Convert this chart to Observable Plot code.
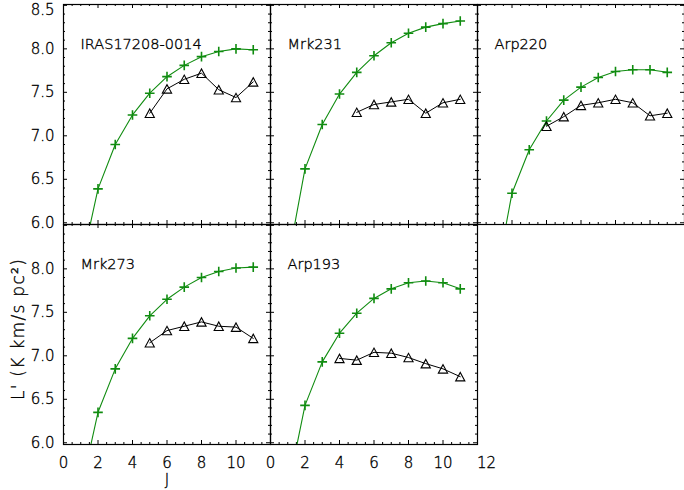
<!DOCTYPE html>
<html>
<head>
<meta charset="utf-8">
<script src="https://cdn.jsdelivr.net/npm/d3@7"></script>
<script src="https://cdn.jsdelivr.net/npm/@observablehq/plot@0.6"></script>
<style>
  body { margin: 0; background: #fff; }
  #fig { position: relative; width: 684px; height: 490px; font-family: "DejaVu Sans", sans-serif; }
  #fig svg { position: absolute; }
  #fig text { font-weight: 300; }
</style>
</head>
<body>
<div id="fig"></div>
<script>
// Rotational ladders: model (green, +) and observed (black, triangles) line luminosities
const galaxies = ["IRAS17208-0014", "Mrk231", "Arp220", "Mrk273", "Arp193"];

const modelJ = [1, 2, 3, 4, 5, 6, 7, 8, 9, 10, 11];
const modelIRAS17208 = [5.48, 6.39, 6.90, 7.24, 7.49, 7.68, 7.81, 7.91, 7.97, 8.00, 7.99];
const modelMrk231    = [5.55, 6.62, 7.13, 7.48, 7.73, 7.92, 8.07, 8.18, 8.25, 8.29, 8.32];
const modelArp220    = [5.28, 6.34, 6.84, 7.17, 7.41, 7.56, 7.67, 7.74, 7.76, 7.76, 7.73];
const modelMrk273    = [5.45, 6.35, 6.85, 7.20, 7.46, 7.65, 7.79, 7.90, 7.97, 8.01, 8.02];
const modelArp193    = [5.46, 6.43, 6.93, 7.26, 7.49, 7.66, 7.77, 7.84, 7.86, 7.84, 7.77];

const obsJIRAS17208 = [5, 6, 7, 8, 9, 10, 11];
const obsIRAS17208  = [7.26, 7.54, 7.65, 7.72, 7.53, 7.44, 7.62];
const obsJMrk231    = [5, 6, 7, 8, 9, 10, 11];
const obsMrk231     = [7.27, 7.36, 7.39, 7.42, 7.26, 7.38, 7.42];
const obsJArp220    = [4, 5, 6, 7, 8, 9, 10, 11];
const obsArp220     = [7.11, 7.22, 7.35, 7.38, 7.42, 7.38, 7.23, 7.26];
const obsJMrk273    = [5, 6, 7, 8, 9, 10, 11];
const obsMrk273     = [7.15, 7.29, 7.34, 7.39, 7.34, 7.33, 7.20];
const obsJArp193    = [4, 5, 6, 7, 8, 9, 10, 11];
const obsArp193     = [6.97, 6.95, 7.04, 7.03, 6.98, 6.91, 6.85, 6.76];

// Axis ticks and labels
const xMajor = [0, 2, 4, 6, 8, 10, 12];
const xMinor = d3.range(0.5, 12, 0.5).filter(v => v % 2 !== 0);
const yMajor = [6.0, 6.5, 7.0, 7.5, 8.0, 8.5];
const yMinor = d3.range(60, 85).map(v => v / 10).filter(v => Math.round(v * 10) % 5 !== 0);
const yLabelsTop = [6.0, 6.5, 7.0, 7.5, 8.0];
const yLabelTopEdge = [8.5];
const yLabelsBottom = [6.0, 6.5, 7.0, 7.5, 8.0];
const xLabelsLeft = [0, 2, 4, 6, 8, 10];
const xLabelsRight = [0, 2, 4, 6, 8, 10];
const xLabelRightEdge = [12];
const xTitle = "J";
const yTitle = "L' (K km/s pc²)";

const GREEN = "#108c10";
const PW = 207, PH = 220;           // panel box size
const M = {l: 70, r: 20, t: 12, b: 50};

// IDL-style plot symbols
const plusSymbol = {
  draw(ctx, size) {
    const s = Math.sqrt(size / Math.PI);
    ctx.moveTo(-s, 0); ctx.lineTo(s, 0);
    ctx.moveTo(0, -s); ctx.lineTo(0, s);
  }
};
const triangleSymbol = {
  draw(ctx, size) {
    const s = Math.sqrt(size / Math.PI);
    ctx.moveTo(-s, 0.92 * s);
    ctx.lineTo(0, -0.92 * s);
    ctx.lineTo(s, 0.92 * s);
    ctx.closePath();
  }
};

const panels = [
  {name: galaxies[0], mJ: modelJ, mL: modelIRAS17208, oJ: obsJIRAS17208, oL: obsIRAS17208, col: 0, row: 0},
  {name: galaxies[1], mJ: modelJ, mL: modelMrk231,    oJ: obsJMrk231,    oL: obsMrk231,    col: 1, row: 0},
  {name: galaxies[2], mJ: modelJ, mL: modelArp220,    oJ: obsJArp220,    oL: obsArp220,    col: 2, row: 0},
  {name: galaxies[3], mJ: modelJ, mL: modelMrk273,    oJ: obsJMrk273,    oL: obsMrk273,    col: 0, row: 1},
  {name: galaxies[4], mJ: modelJ, mL: modelArp193,    oJ: obsJArp193,    oL: obsArp193,    col: 1, row: 1}
];

const fig = document.getElementById("fig");
// thin face, lightly stroked so the glyphs read as a hairline-weight font
const font = {fontFamily: "DejaVu Sans", fontSize: 15, fill: "black", stroke: "black", strokeWidth: 0.35, paintOrder: "normal"};

for (const p of panels) {
  const model = p.mJ.map((j, i) => ({J: j, L: p.mL[i]}));
  const obs = p.oJ.map((j, i) => ({J: j, L: p.oL[i]}));
  const marks = [
    // inward ticks on all four sides
    Plot.tickX(xMajor, {x: d => d, insetTop: PH - 4, stroke: "black"}),
    Plot.tickX(xMajor, {x: d => d, insetBottom: PH - 4, stroke: "black"}),
    Plot.tickX(xMinor, {x: d => d, insetTop: PH - 2, stroke: "black"}),
    Plot.tickX(xMinor, {x: d => d, insetBottom: PH - 2, stroke: "black"}),
    Plot.tickY(yMajor, {y: d => d, insetRight: PW - 4, stroke: "black"}),
    Plot.tickY(yMajor, {y: d => d, insetLeft: PW - 4, stroke: "black"}),
    Plot.tickY(yMinor, {y: d => d, insetRight: PW - 2, stroke: "black"}),
    Plot.tickY(yMinor, {y: d => d, insetLeft: PW - 2, stroke: "black"}),
    // model ladder
    Plot.line(model, {x: "J", y: "L", stroke: GREEN, strokeWidth: 1.1, clip: true}),
    Plot.dot(model, {x: "J", y: "L", symbol: plusSymbol, r: 4.8, stroke: GREEN, strokeWidth: 1.6, clip: true}),
    // observed ladder
    Plot.line(obs, {x: "J", y: "L", stroke: "black", strokeWidth: 1}),
    Plot.dot(obs, {x: "J", y: "L", symbol: triangleSymbol, r: 4.6, stroke: "black", fill: "none", strokeWidth: 1.1}),
    Plot.text([p.name], {frameAnchor: "top-left", dx: 17, dy: 40, textAnchor: "start", lineAnchor: "middle", ...font, fontSize: 14.5}),
    Plot.frame({stroke: "black", strokeWidth: 1.2})
  ];
  if (p.col === 0) {
    const labs = p.row === 0 ? yLabelsTop : yLabelsBottom;
    marks.push(Plot.text(labs, {y: d => d, frameAnchor: "left", text: d => d.toFixed(1), textAnchor: "end", dx: -9, ...font}));
    if (p.row === 0) {
      marks.push(Plot.text(yLabelTopEdge, {y: d => d, frameAnchor: "left", text: d => d.toFixed(1), textAnchor: "end", dx: -9, dy: 4.5, ...font}));
    }
  }
  if (p.row === 1) {
    const labs = p.col === 0 ? xLabelsLeft : xLabelsRight;
    marks.push(Plot.text(labs, {x: d => d, frameAnchor: "bottom", text: d => String(d), dy: 19, lineAnchor: "middle", ...font}));
    if (p.col === 1) {
      marks.push(Plot.text(xLabelRightEdge, {x: d => d, frameAnchor: "bottom", text: d => String(d), dx: 9, dy: 19, lineAnchor: "middle", ...font}));
    }
  }
  if (p.col === 0 && p.row === 1) {
    marks.push(Plot.text([xTitle], {frameAnchor: "bottom", dy: 36, lineAnchor: "middle", ...font}));
    marks.push(Plot.text([yTitle], {frameAnchor: "left", dx: -45, dy: -5.5, rotate: -90, textAnchor: "middle", lineAnchor: "middle", ...font, fontSize: 17}));
  }
  const svg = Plot.plot({
    width: PW + M.l + M.r,
    height: PH + M.t + M.b,
    marginLeft: M.l, marginRight: M.r, marginTop: M.t, marginBottom: M.b,
    x: {domain: [0, 12], axis: null},
    y: {domain: [5.98, 8.51], axis: null},
    style: {background: "transparent", overflow: "visible", fontFamily: "DejaVu Sans", maxWidth: "none"},
    marks
  });
  svg.style.left = (63 + p.col * PW - M.l) + "px";
  svg.style.top = (4 + p.row * PH - M.t) + "px";
  // widen the axis title's letter spacing
  for (const t of svg.querySelectorAll("text")) {
    if (t.textContent === yTitle) t.style.letterSpacing = "1.3px";
  }
  fig.appendChild(svg);
}
</script>
</body>
</html>
